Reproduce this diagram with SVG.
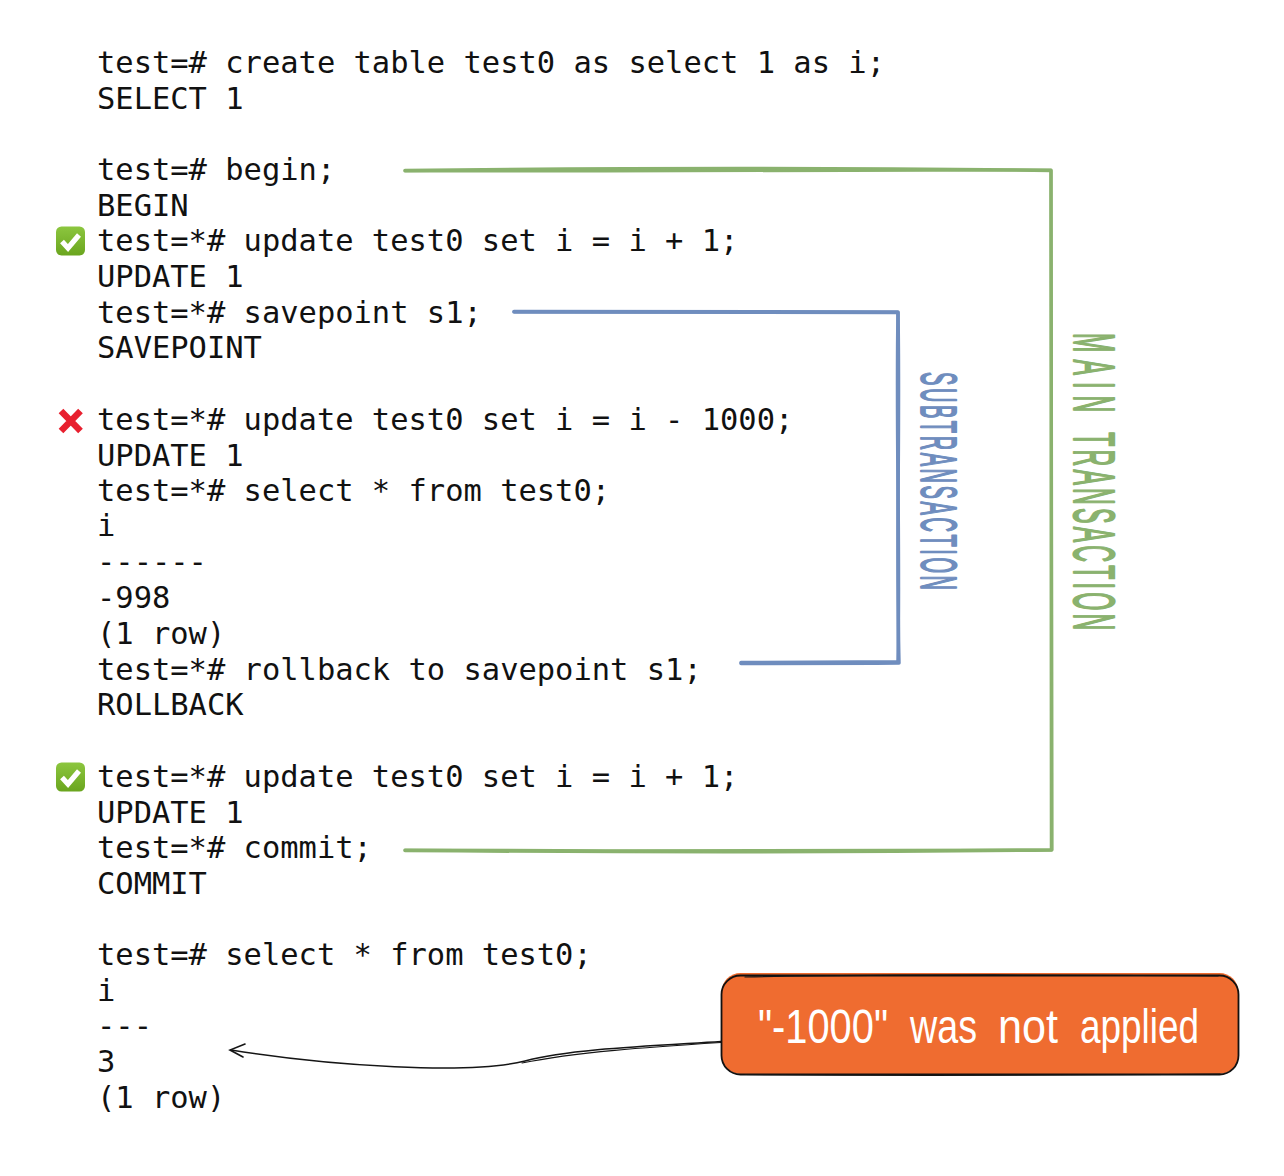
<svg xmlns="http://www.w3.org/2000/svg" width="1284" height="1176" viewBox="0 0 1284 1176">
<style>
.c{font-family:"DejaVu Sans Mono","Liberation Mono",monospace;font-size:30.45px;fill:#111;white-space:pre}
.h{font-family:"Liberation Sans Narrow","Liberation Sans",sans-serif;white-space:pre;stroke-linejoin:round;stroke-linecap:round}
.g{fill:none;stroke:#8ab26e;stroke-linecap:round;stroke-linejoin:round}
.b{fill:none;stroke:#6f8dbe;stroke-linecap:round;stroke-linejoin:round}
.k{fill:none;stroke:#151515;stroke-linecap:round}
</style>
<rect width="1284" height="1176" fill="#ffffff"/>
<g id="code">
<text class="c" x="97" y="72.500">test=# create table test0 as select 1 as i;</text>
<text class="c" x="97" y="108.500">SELECT 1</text>
<text class="c" x="97" y="179.500">test=# begin;</text>
<text class="c" x="97" y="215.500">BEGIN</text>
<text class="c" x="97" y="250.500">test=*# update test0 set i = i + 1;</text>
<text class="c" x="97" y="286.500">UPDATE 1</text>
<text class="c" x="97" y="322.500">test=*# savepoint s1;</text>
<text class="c" x="97" y="357.500">SAVEPOINT</text>
<text class="c" x="97" y="429.500">test=*# update test0 set i = i - 1000;</text>
<text class="c" x="97" y="465.500">UPDATE 1</text>
<text class="c" x="97" y="500.500">test=*# select * from test0;</text>
<text class="c" x="97" y="535.500">i</text>
<text class="c" x="97" y="571.500">------</text>
<text class="c" x="97" y="607.500">-998</text>
<text class="c" x="97" y="643.500">(1 row)</text>
<text class="c" x="97" y="679.500">test=*# rollback to savepoint s1;</text>
<text class="c" x="97" y="714.500">ROLLBACK</text>
<text class="c" x="97" y="786.500">test=*# update test0 set i = i + 1;</text>
<text class="c" x="97" y="822.500">UPDATE 1</text>
<text class="c" x="97" y="857.500">test=*# commit;</text>
<text class="c" x="97" y="893.500">COMMIT</text>
<text class="c" x="97" y="964.500">test=# select * from test0;</text>
<text class="c" x="97" y="1000.500">i</text>
<text class="c" x="97" y="1035.500">---</text>
<text class="c" x="97" y="1071.500">3</text>
<text class="c" x="97" y="1107.500">(1 row)</text>
</g>
<defs>
<linearGradient id="gr" x1="0" y1="0" x2="0" y2="1"><stop offset="0" stop-color="#8cc63f"/><stop offset="1" stop-color="#6aa51e"/></linearGradient>
<g id="check"><rect x="-14.500" y="-14.500" width="29" height="29" rx="5.500" fill="url(#gr)"/><path d="M-8.500 0.500L-2.500 7L8.500 -6" fill="none" stroke="#fff" stroke-width="5.200"/></g>
</defs>
<g id="mark-ok-1"><use href="#check" x="70.500" y="241"/></g>
<g id="mark-fail"><path d="M61 411L80.500 431M80.500 411L61 431" stroke="#e8202f" stroke-width="6.500" fill="none"/></g>
<g id="mark-ok-2"><use href="#check" x="70.500" y="777"/></g>
<g id="connectors">
<path class="g" stroke-width="3.500" d="M405 170.500C620 168 830 167.500 1051 170.500L1051.500 850C830 852.500 620 852 405 850.500"/>
<path class="g" stroke-width="3" d="M405 171C620 171 830 171 1051 170M405 850C620 851 830 851 1051 850M1051 170C1052 400 1051 650 1052 850"/>
<path class="b" stroke-width="3.500" d="M514 311.500C650 311 780 311.500 898 312C900 430 896 540 899 663C845 663.500 790 663 741 663.500"/>
<path class="b" stroke-width="3.500" d="M514 312C650 312.500 780 312.500 898 312.500C896 430 900 540 898 662C845 662 790 662 741 662.500"/>
<path class="k" stroke-width="1.600" d="M721 1041.500C650 1046 570 1049 525 1061C470 1075 330 1066 231 1050"/>
<path class="k" stroke-width="1.200" d="M721 1042.500C650 1047 575 1052 522 1063"/>
<path class="k" stroke-width="1.600" d="M245 1044L230 1050L243 1057"/>
</g>
<g id="label-subtransaction"><text class="h" transform="translate(921 372) rotate(90) scale(.4 1)" font-size="50" fill="#6f8dbe" stroke="#6f8dbe" stroke-width="2" textLength="545" lengthAdjust="spacing">SUBTRANSACTION</text></g>
<g id="label-main"><text class="h" transform="translate(1074 333) rotate(90) scale(.4 1)" font-size="58" fill="#8ab26e" stroke="#8ab26e" stroke-width="2.200"><tspan x="0" textLength="198" lengthAdjust="spacing">MAIN</tspan> <tspan x="248" textLength="495" lengthAdjust="spacing">TRANSACTION</tspan></text></g>
<g id="note">
<rect x="721.500" y="973" width="517" height="101" rx="19" fill="#ef6c30"/>
<rect x="721.500" y="975.500" width="517" height="99" rx="19" fill="none" stroke="#111" stroke-width="1.800"/>
<path class="k" stroke-width="1.200" d="M745 977C900 974 1100 975 1218 976M745 1074.500C900 1076 1100 1075 1220 1074"/>
<text class="h" y="1043" font-size="48" fill="#fff"><tspan x="758" textLength="130" lengthAdjust="spacingAndGlyphs">"-1000"</tspan> <tspan x="910" textLength="67" lengthAdjust="spacingAndGlyphs">was</tspan> <tspan x="998" textLength="60" lengthAdjust="spacingAndGlyphs">not</tspan> <tspan x="1080" textLength="119" lengthAdjust="spacingAndGlyphs">applied</tspan></text>
</g>
</svg>
